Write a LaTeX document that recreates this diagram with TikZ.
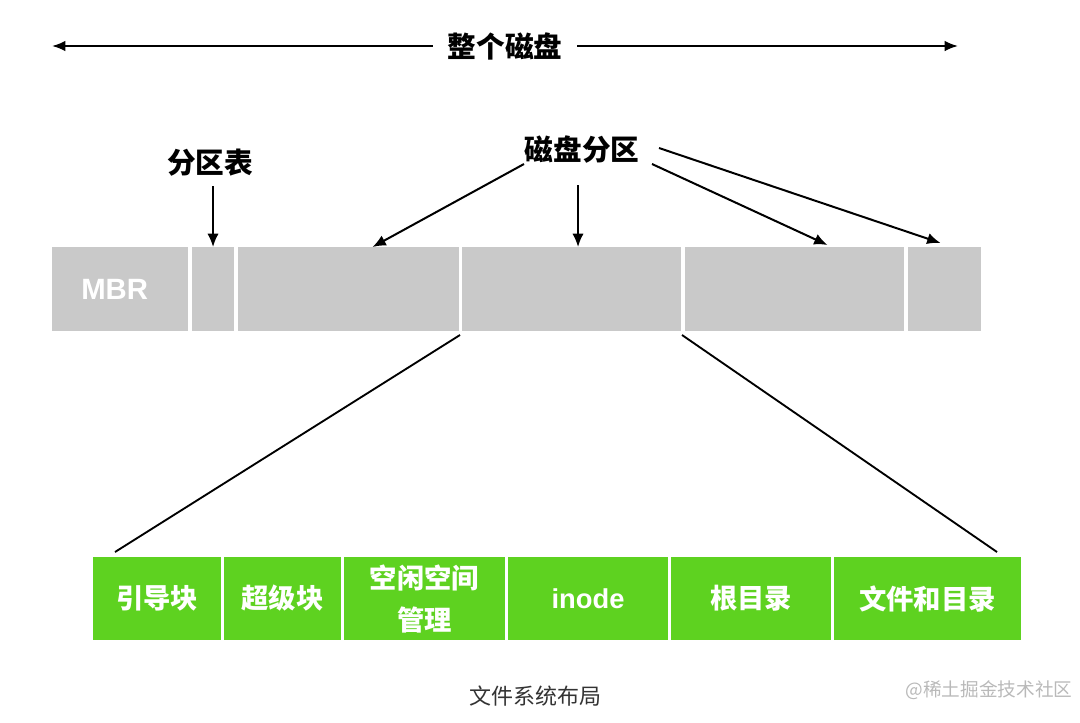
\documentclass[tikz,border=0pt]{standalone}
\usepackage{fontspec}
\setmainfont{Liberation Sans}
\newfontfamily\cjk{Noto Sans CJK SC}
\usetikzlibrary{arrows.meta,calc}
\definecolor{bargray}{RGB}{201,201,201}
\definecolor{fsgreen}{RGB}{94,210,32}
\definecolor{captiongray}{RGB}{51,51,51}
\definecolor{wmgray}{RGB}{185,185,185}
\tikzset{
  bigtitle/.style={font=\cjk\bfseries\fontsize{21.5}{25}\selectfont, inner sep=0pt},
  seg/.style={fill=bargray, minimum height={84*0.75pt}, inner sep=0pt, outer sep=0pt, text=white, font=\bfseries\fontsize{22}{26}\selectfont},
  fsbox/.style={fill=fsgreen, minimum height={83*0.75pt}, inner sep=0pt, outer sep=0pt, text=white, font=\cjk\bfseries\fontsize{20.5}{31.5}\selectfont, align=center},
  arr/.style={line width=1.5pt, -{Latex[length=10pt,width=8.5pt]}},
  zoomline/.style={line width=1.4pt}
}
\begin{document}
\begin{tikzpicture}[x=0.75pt,y=-0.75pt]
\useasboundingbox (0,0) rectangle (1080,722);
% whole disk
\node[bigtitle, minimum width={144*0.75pt}] (title) at (505,46) {整个磁盘};
\coordinate (L) at (52,46);
\coordinate (R) at (958,46);
\draw[line width=1.6pt, -{Latex[length=10pt,width=8pt]}] (title.west) -- (L);
\draw[line width=1.6pt, -{Latex[length=10pt,width=8pt]}] (title.east) -- (R);
% disk bar
\node[seg, minimum width={136*0.75pt}] (mbr) at (120,289) {\hspace*{-8pt}MBR};
\node[seg, minimum width={42*0.75pt}] (pt) at (213,289) {};
\node[seg, minimum width={221*0.75pt}] (p1) at (348.5,289) {};
\node[seg, minimum width={219*0.75pt}] (p2) at (571.5,289) {};
\node[seg, minimum width={219*0.75pt}] (p3) at (794.5,289) {};
\node[seg, minimum width={73*0.75pt}] (p4) at (944.5,289) {};
% labels
\node[bigtitle] (ptl) at (210,163) {分区表};
\node[bigtitle] (dpl) at (582,150) {磁盘分区};
\coordinate (ptls) at (213,186);
\draw[arr] (ptls) -- (pt.north);
\coordinate (d1) at (524,164);
\coordinate (d2) at (578,185);
\coordinate (d3) at (652,164);
\coordinate (d4) at (659,148);
\draw[arr] (d1) -- ($(p1.north)+(24,0)$);
\draw[arr] (d2) -- ($(p2.north)+(6.5,0)$);
\draw[arr] (d3) -- ($(p3.north)+(33,-2)$);
\draw[arr] (d4) -- ($(p4.north)+(-4,-4)$);
% file system layout
\node[fsbox, minimum width={128*0.75pt}] (g1) at (157,598.5) {引导块};
\node[fsbox, minimum width={117*0.75pt}] (g2) at (282.5,598.5) {超级块};
\node[fsbox, minimum width={161*0.75pt}] (g3) at (424.5,598.5) {空闲空间\\管理};
\node[fsbox, minimum width={160*0.75pt}, font=\bfseries\fontsize{20.5}{25}\selectfont] (g4) at (588,598.5) {inode};
\node[fsbox, minimum width={160*0.75pt}] (g5) at (751,598.5) {根目录};
\node[fsbox, minimum width={187*0.75pt}] (g6) at (927.5,598.5) {文件和目录};
\draw[zoomline] ($(p2.south west)+(-2,4)$) -- ($(g1.north west)+(22,-5)$);
\draw[zoomline] ($(p2.south east)+(1,4)$) -- ($(g6.north east)+(-24,-5)$);
% captions
\node[font=\cjk\fontsize{16.5}{20}\selectfont, text=captiongray, inner sep=0pt] (cap) at (535,696) {文件系统布局};
\node[font=\cjk\fontsize{14}{18}\selectfont, text=wmgray, inner sep=0pt] (wm) at (989,690) {@稀土掘金技术社区};
\end{tikzpicture}
\end{document}
